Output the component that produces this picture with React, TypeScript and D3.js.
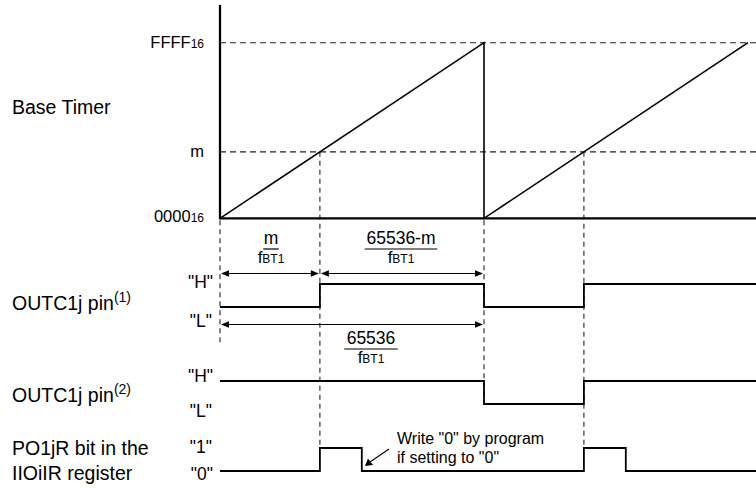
import React from "react";
import * as d3 from "d3";

// ---- data ----
const PERIOD = 65536;          // counts per timer cycle
const M_VALUE = 24800;         // compare value "m"
const TIME_END = 133060;       // end of the time axis (counts)
const PULSE = 10400;           // PO1jR high duration before software clears it

const timerTickValues = [0, M_VALUE, 65535];
const timerTickMain = ["0000", "m", "FFFF"];
const timerTickSub = ["16", "", "16"];

const rampPoints: [number, number][] = [
  [0, 0],
  [PERIOD, 65535],
  [PERIOD, 0],
  [2 * PERIOD, 65535],
];

const pin1Steps: [number, number][] = [
  [0, 0], [M_VALUE, 1], [PERIOD, 0], [PERIOD + M_VALUE, 1], [TIME_END, 1],
];
const pin2Steps: [number, number][] = [
  [0, 1], [PERIOD, 0], [PERIOD + M_VALUE, 1], [TIME_END, 1],
];
const po1jrSteps: [number, number][] = [
  [0, 0], [M_VALUE, 1], [M_VALUE + PULSE, 0], [PERIOD + M_VALUE, 1],
  [PERIOD + M_VALUE + PULSE, 0], [TIME_END, 0],
];

const pin1Levels = ['"H"', '"L"'];
const pin2Levels = ['"H"', '"L"'];
const po1jrLevels = ['"1"', '"0"'];

const FONT = "'Liberation Sans', Arial, Helvetica, sans-serif";

// ---- layout ----
const X0 = 220;
const x = d3.scaleLinear().domain([0, 2 * PERIOD]).range([X0, 748]);
const yT = d3.scaleLinear().domain([0, 65535]).range([218.3, 42.7]);

const rowPin1 = d3.scaleLinear().domain([0, 1]).range([307, 284]);
const rowPin2 = d3.scaleLinear().domain([0, 1]).range([404, 381]);
const rowPo = d3.scaleLinear().domain([0, 1]).range([471, 448]);

function stepPath(data: [number, number][], ys: d3.ScaleLinear<number, number>) {
  return d3
    .line<[number, number]>()
    .x((d) => x(d[0]))
    .y((d) => ys(d[1]))
    .curve(d3.curveStepAfter)(data) as string;
}

function Head({ xt, y, dir }: { xt: number; y: number; dir: 1 | -1 }) {
  const L = 8, W = 3.2;
  const pts = `${xt},${y} ${xt - dir * L},${y - W} ${xt - dir * L},${y + W}`;
  return <polygon points={pts} fill="#000" />;
}

function DArrow({ x1, x2, y }: { x1: number; x2: number; y: number }) {
  return (
    <g>
      <line x1={x1 + 2} x2={x2 - 2} y1={y} y2={y} stroke="#000" strokeWidth={1.2} />
      <Head xt={x1 + 1} y={y} dir={-1} />
      <Head xt={x2 - 1} y={y} dir={1} />
    </g>
  );
}

function Frac({ cx, yNum, num }: { cx: number; yNum: number; num: string }) {
  const w = num.length * 9.5 + 6;
  return (
    <g fontFamily={FONT} fill="#000">
      <text x={cx} y={yNum} fontSize={17.5} textAnchor="middle">{num}</text>
      <line x1={cx - w / 2} x2={cx + w / 2} y1={yNum + 5} y2={yNum + 5} stroke="#000" strokeWidth={1.2} />
      <text x={cx} y={yNum + 19} fontSize={17} textAnchor="middle">
        f<tspan fontSize={12}>BT1</tspan>
      </text>
    </g>
  );
}

export default function App() {
  const xM1 = x(M_VALUE);
  const xP = x(PERIOD);
  const xM2 = x(PERIOD + M_VALUE);
  const ramp = d3
    .line<[number, number]>()
    .x((d) => x(d[0]))
    .y((d) => yT(d[1]))(rampPoints) as string;

  const dash = "6,4";
  const vdash = "5,4";
  const dcol = "#222";

  return (
    <svg
      width={756}
      height={489}
      style={{ position: "absolute", left: 0, top: 0, background: "#fff" }}
      fontFamily={FONT}
    >
      <rect width={756} height={489} fill="#fff" />

      {/* dashed guides */}
      <line x1={X0} x2={756} y1={yT(65535)} y2={yT(65535)} stroke={dcol} strokeDasharray={dash} strokeWidth={1.1} />
      <line x1={X0} x2={756} y1={yT(M_VALUE)} y2={yT(M_VALUE)} stroke={dcol} strokeDasharray={dash} strokeWidth={1.1} />
      <line x1={X0} x2={X0} y1={yT(0) + 2} y2={343} stroke={dcol} strokeDasharray={vdash} strokeWidth={1.1} />
      <line x1={xM1} x2={xM1} y1={yT(M_VALUE)} y2={rowPo(1)} stroke={dcol} strokeDasharray={vdash} strokeWidth={1.1} />
      <line x1={xP} x2={xP} y1={yT(0) + 2} y2={rowPin2(0)} stroke={dcol} strokeDasharray={vdash} strokeWidth={1.1} />
      <line x1={xM2} x2={xM2} y1={yT(M_VALUE)} y2={rowPo(1)} stroke={dcol} strokeDasharray={vdash} strokeWidth={1.1} />

      {/* axes */}
      <line x1={X0} x2={X0} y1={5} y2={yT(0) + 1} stroke="#000" strokeWidth={2.3} />
      <line x1={X0} x2={756} y1={yT(0)} y2={yT(0)} stroke="#000" strokeWidth={2.2} />

      {/* ramp */}
      <path d={ramp} fill="none" stroke="#000" strokeWidth={1.6} />

      {/* tick labels */}
      {timerTickValues.map((v, i) => (
        <text key={i} x={204} y={yT(v) + (i === 0 ? 3.5 : 5.5)} fontSize={16.5} textAnchor="end" fill="#000">
          {timerTickMain[i]}
          {timerTickSub[i] && <tspan fontSize={12}>{timerTickSub[i]}</tspan>}
        </text>
      ))}

      {/* left labels */}
      <text x={12} y={114} fontSize={19.5}>Base Timer</text>
      <text x={12} y={310} fontSize={19.5}>
        OUTC1j pin<tspan fontSize={14} dy={-8}>(1)</tspan>
      </text>
      <text x={12} y={402} fontSize={19.5}>
        OUTC1j pin<tspan fontSize={14} dy={-8}>(2)</tspan>
      </text>
      <text x={12} y={455} fontSize={19.5}>PO1jR bit in the</text>
      <text x={12} y={480} fontSize={19.5}>IIOiIR register</text>

      {/* level labels */}
      <g fontSize={17.5} textAnchor="end">
        <text x={213} y={288}>{pin1Levels[0]}</text>
        <text x={212} y={327}>{pin1Levels[1]}</text>
        <text x={213} y={382}>{pin2Levels[0]}</text>
        <text x={212} y={417}>{pin2Levels[1]}</text>
        <text x={212} y={453}>{po1jrLevels[0]}</text>
        <text x={213} y={480}>{po1jrLevels[1]}</text>
      </g>

      {/* timing arrows */}
      <DArrow x1={X0} x2={xM1} y={273.5} />
      <DArrow x1={xM1} x2={xP} y={273.5} />
      <DArrow x1={X0} x2={xP} y={324.5} />

      <Frac cx={271} yNum={244} num="m" />
      <Frac cx={401} yNum={244} num="65536-m" />
      <Frac cx={371} yNum={344} num="65536" />

      {/* signals */}
      <path d={stepPath(pin1Steps, rowPin1)} fill="none" stroke="#000" strokeWidth={1.8} />
      <path d={stepPath(pin2Steps, rowPin2)} fill="none" stroke="#000" strokeWidth={1.8} />
      <path d={stepPath(po1jrSteps, rowPo)} fill="none" stroke="#000" strokeWidth={1.8} />

      {/* annotation */}
      <line x1={389} y1={449} x2={370} y2={462} stroke="#000" strokeWidth={1.1} />
      <polygon points="365,466 368,458.5 373,465" fill="#000" />
      <text x={397} y={443.5} fontSize={16}>Write "0" by program</text>
      <text x={397} y={462.5} fontSize={16}>if setting to "0"</text>
    </svg>
  );
}
